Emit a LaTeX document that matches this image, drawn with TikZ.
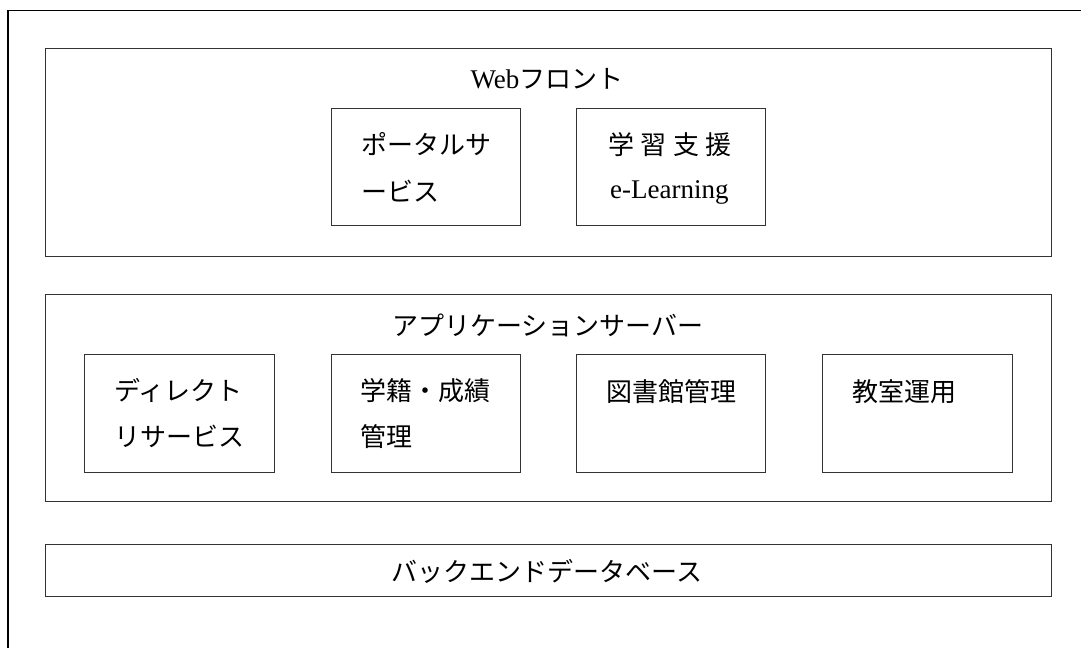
\documentclass[tikz,border=0pt]{standalone}
\usepackage{fontspec}
\setmainfont{Liberation Serif}
\newfontfamily\jp{Noto Sans CJK JP}
\begin{document}
\begin{tikzpicture}[x=1pt,y=-1pt,
  box/.style={draw=black!80, line width=1pt, inner sep=0pt, rectangle},
  lbl/.style={inner sep=0pt, font=\fontsize{27pt}{27pt}\selectfont, text height=0.88em, text depth=0.12em},
  jl/.style={lbl, font=\fontsize{26pt}{26pt}\selectfont\jp}]
\useasboundingbox (0,0) rectangle (1081,648);
% outer frame (partly outside the picture)
\coordinate (ftl) at (8,10.5);
\coordinate (ftr) at (1081,10.5);
\coordinate (fbl) at (8,648);
\draw[line width=1.5pt] (ftr) -- (ftl) -- (fbl);
% layer boxes
\node[box, minimum width=1006pt, minimum height=208pt] (web) at (548,152) {};
\node[box, minimum width=1006pt, minimum height=207pt] (app) at (548,397.5) {};
\node[box, minimum width=1006pt, minimum height=52pt] (db) at (548,570) {};
% inner boxes
\node[box, minimum width=189pt, minimum height=117pt] (portal) at (425.5,166.5) {};
\node[box, minimum width=189pt, minimum height=117pt] (learn) at (670.5,166.5) {};
\node[box, minimum width=190pt, minimum height=118pt] (dir) at (179,413) {};
\node[box, minimum width=189pt, minimum height=118pt] (gak) at (425.5,413) {};
\node[box, minimum width=189pt, minimum height=118pt] (lib) at (670.5,413) {};
\node[box, minimum width=190pt, minimum height=118pt] (cls) at (917,413) {};
% titles
\node[lbl] (webt) at (547,85) {Web{\fontsize{26pt}{26pt}\selectfont\jp フロント}};
\node[jl] (appt) at (548,332) {アプリケーションサーバー};
\node[jl] (dbt) at (547,578) {バックエンドデータベース};
% texts
\node[jl, anchor=west] (portal1) at (361,151) {ポータルサ};
\node[jl, anchor=west] (portal2) at (361,198) {ービス};
\node[jl, anchor=west] (learn1) at (608,151) {学\hspace{6.5pt}習\hspace{6.5pt}支\hspace{6.5pt}援};
\node[lbl, anchor=west] (learn2) at (610,195) {e-Learning};
\node[jl, anchor=west] (dir1) at (114,397) {ディレクト};
\node[jl, anchor=west] (dir2) at (114,443) {リサービス};
\node[jl, anchor=west] (gak1) at (360,397) {学籍・成績};
\node[jl, anchor=west] (gak2) at (360,443) {管理};
\node[jl, anchor=west] (lib1) at (606,398) {図書館管理};
\node[jl, anchor=west] (cls1) at (852,398) {教室運用};
\end{tikzpicture}
\end{document}
